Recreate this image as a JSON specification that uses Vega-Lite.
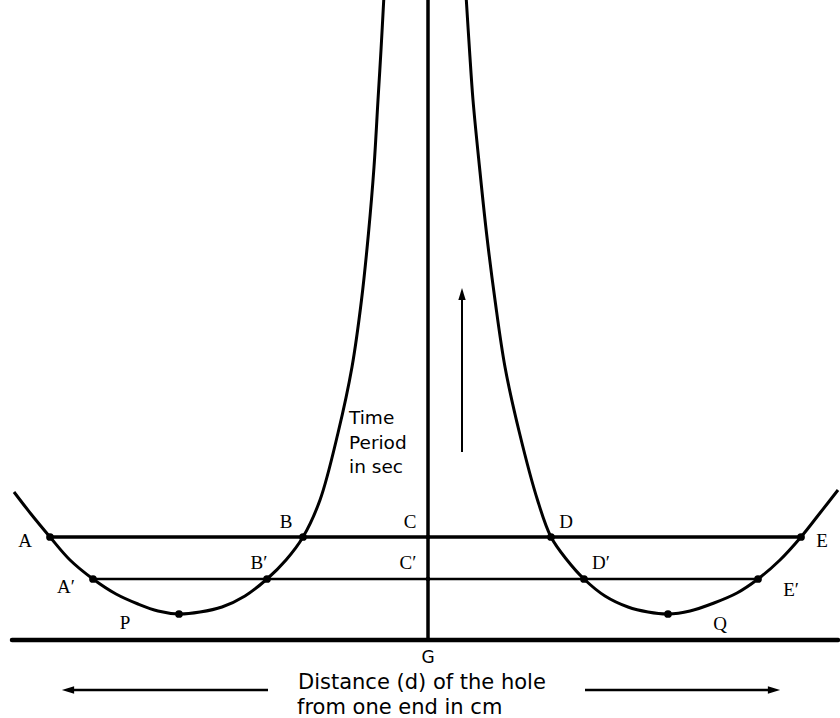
{
  "$schema": "https://vega.github.io/schema/vega-lite/v6.json",
  "width": 840,
  "height": 718,
  "autosize": "none",
  "padding": 0,
  "background": "white",
  "config": {"view": {"stroke": null}},
  "datasets": {
    "curves": [
      {"curve": "left", "i": 0, "x": 384, "y": -5},
      {"curve": "left", "i": 1, "x": 381, "y": 50},
      {"curve": "left", "i": 2, "x": 378, "y": 100},
      {"curve": "left", "i": 3, "x": 374, "y": 167},
      {"curve": "left", "i": 4, "x": 368.5, "y": 233},
      {"curve": "left", "i": 5, "x": 361.5, "y": 300},
      {"curve": "left", "i": 6, "x": 352, "y": 367},
      {"curve": "left", "i": 7, "x": 338, "y": 433},
      {"curve": "left", "i": 8, "x": 320, "y": 500},
      {"curve": "left", "i": 9, "x": 303, "y": 537},
      {"curve": "left", "i": 10, "x": 286, "y": 560},
      {"curve": "left", "i": 11, "x": 267, "y": 579},
      {"curve": "left", "i": 12, "x": 245, "y": 596},
      {"curve": "left", "i": 13, "x": 222, "y": 607},
      {"curve": "left", "i": 14, "x": 200, "y": 612},
      {"curve": "left", "i": 15, "x": 179, "y": 614},
      {"curve": "left", "i": 16, "x": 158, "y": 611},
      {"curve": "left", "i": 17, "x": 138, "y": 604},
      {"curve": "left", "i": 18, "x": 116, "y": 594},
      {"curve": "left", "i": 19, "x": 93, "y": 579},
      {"curve": "left", "i": 20, "x": 70, "y": 560},
      {"curve": "left", "i": 21, "x": 50, "y": 537},
      {"curve": "left", "i": 22, "x": 31, "y": 514},
      {"curve": "left", "i": 23, "x": 14, "y": 492},
      {"curve": "right", "i": 0, "x": 466, "y": -5},
      {"curve": "right", "i": 1, "x": 469.5, "y": 50},
      {"curve": "right", "i": 2, "x": 473, "y": 100},
      {"curve": "right", "i": 3, "x": 479.5, "y": 167},
      {"curve": "right", "i": 4, "x": 486.5, "y": 233},
      {"curve": "right", "i": 5, "x": 495, "y": 300},
      {"curve": "right", "i": 6, "x": 505, "y": 367},
      {"curve": "right", "i": 7, "x": 519.5, "y": 433},
      {"curve": "right", "i": 8, "x": 537.5, "y": 500},
      {"curve": "right", "i": 9, "x": 551, "y": 537},
      {"curve": "right", "i": 10, "x": 567, "y": 560},
      {"curve": "right", "i": 11, "x": 584, "y": 579},
      {"curve": "right", "i": 12, "x": 605, "y": 596},
      {"curve": "right", "i": 13, "x": 628, "y": 607},
      {"curve": "right", "i": 14, "x": 648, "y": 612},
      {"curve": "right", "i": 15, "x": 668, "y": 614},
      {"curve": "right", "i": 16, "x": 690, "y": 611},
      {"curve": "right", "i": 17, "x": 714, "y": 603},
      {"curve": "right", "i": 18, "x": 737, "y": 593},
      {"curve": "right", "i": 19, "x": 758, "y": 579},
      {"curve": "right", "i": 20, "x": 780, "y": 560},
      {"curve": "right", "i": 21, "x": 801, "y": 537},
      {"curve": "right", "i": 22, "x": 820, "y": 513},
      {"curve": "right", "i": 23, "x": 838, "y": 490}
    ],
    "segments": [
      {"name": "AE", "kind": "thick", "x": 50, "x2": 801, "y": 537, "y2": 537},
      {"name": "A'E'", "kind": "medium", "x": 93, "x2": 758, "y": 579, "y2": 579},
      {"name": "base", "kind": "heavy", "x": 12, "x2": 838, "y": 640, "y2": 640},
      {"name": "axis", "kind": "thick", "x": 428, "x2": 428, "y": 0, "y2": 640},
      {"name": "up", "kind": "thin", "x": 462, "x2": 462, "y": 296, "y2": 452},
      {"name": "leftarrow", "kind": "medium", "x": 70, "x2": 268, "y": 690, "y2": 690},
      {"name": "rightarrow", "kind": "medium", "x": 585, "x2": 772, "y": 690, "y2": 690}
    ],
    "heads": [
      {"dir": "up", "x": 462, "y": 294},
      {"dir": "left", "x": 68, "y": 690},
      {"dir": "right", "x": 774, "y": 690}
    ],
    "dots": [
      {"label": "A", "kind": "big", "x": 50, "y": 537},
      {"label": "B", "kind": "big", "x": 303, "y": 537},
      {"label": "C", "kind": "small", "x": 428, "y": 537},
      {"label": "D", "kind": "big", "x": 551, "y": 537},
      {"label": "E", "kind": "big", "x": 801, "y": 537},
      {"label": "A'", "kind": "big", "x": 93, "y": 579},
      {"label": "B'", "kind": "big", "x": 267, "y": 579},
      {"label": "C'", "kind": "small", "x": 428, "y": 579},
      {"label": "D'", "kind": "big", "x": 584, "y": 579},
      {"label": "E'", "kind": "big", "x": 758, "y": 579},
      {"label": "P", "kind": "big", "x": 179, "y": 614},
      {"label": "Q", "kind": "big", "x": 668, "y": 614}
    ],
    "letters": [
      {"text": "A", "x": 25, "y": 541},
      {"text": "B", "x": 286, "y": 522},
      {"text": "C", "x": 410, "y": 522},
      {"text": "D", "x": 566, "y": 522},
      {"text": "E", "x": 822, "y": 541},
      {"text": "A′", "x": 66, "y": 587},
      {"text": "B′", "x": 259, "y": 563},
      {"text": "C′", "x": 408, "y": 563},
      {"text": "D′", "x": 601, "y": 563},
      {"text": "E′", "x": 791, "y": 590},
      {"text": "P", "x": 125, "y": 623},
      {"text": "Q", "x": 720, "y": 624}
    ],
    "words": [
      {"text": "Time", "x": 349, "y": 418},
      {"text": "Period", "x": 349, "y": 443},
      {"text": "in sec", "x": 349, "y": 467}
    ],
    "caption": [
      {"text": "Distance (d) of the hole", "x": 298, "y": 683},
      {"text": "from one end in cm", "x": 297, "y": 708}
    ],
    "center": [
      {"text": "G", "x": 428, "y": 658}
    ]
  },
  "layer": [
    {
      "data": {"name": "curves"},
      "mark": {"type": "line", "color": "black", "strokeWidth": 3, "interpolate": "catmull-rom", "clip": true},
      "encoding": {
        "x": {"field": "x", "type": "quantitative", "scale": {"domain": [0, 840], "nice": false, "zero": false}, "axis": null},
        "y": {"field": "y", "type": "quantitative", "scale": {"domain": [0, 718], "nice": false, "zero": false, "reverse": true}, "axis": null},
        "detail": {"field": "curve"},
        "order": {"field": "i"}
      }
    },
    {
      "data": {"name": "segments"},
      "transform": [{"filter": "datum.kind == 'heavy'"}],
      "mark": {"type": "rule", "color": "black", "strokeWidth": 4.5, "strokeCap": "round"},
      "encoding": {
        "x": {"field": "x", "type": "quantitative"},
        "x2": {"field": "x2"},
        "y": {"field": "y", "type": "quantitative"},
        "y2": {"field": "y2"}
      }
    },
    {
      "data": {"name": "segments"},
      "transform": [{"filter": "datum.kind == 'thick'"}],
      "mark": {"type": "rule", "color": "black", "strokeWidth": 3.5},
      "encoding": {
        "x": {"field": "x", "type": "quantitative"},
        "x2": {"field": "x2"},
        "y": {"field": "y", "type": "quantitative"},
        "y2": {"field": "y2"}
      }
    },
    {
      "data": {"name": "segments"},
      "transform": [{"filter": "datum.kind == 'medium'"}],
      "mark": {"type": "rule", "color": "black", "strokeWidth": 2.5},
      "encoding": {
        "x": {"field": "x", "type": "quantitative"},
        "x2": {"field": "x2"},
        "y": {"field": "y", "type": "quantitative"},
        "y2": {"field": "y2"}
      }
    },
    {
      "data": {"name": "segments"},
      "transform": [{"filter": "datum.kind == 'thin'"}],
      "mark": {"type": "rule", "color": "black", "strokeWidth": 2},
      "encoding": {
        "x": {"field": "x", "type": "quantitative"},
        "x2": {"field": "x2"},
        "y": {"field": "y", "type": "quantitative"},
        "y2": {"field": "y2"}
      }
    },
    {
      "data": {"name": "heads"},
      "transform": [{"filter": "datum.dir == 'up'"}],
      "mark": {"type": "point", "shape": "M -0.6 1 L 0 -1 L 0.6 1 Z", "filled": true, "color": "black", "opacity": 1, "size": 150},
      "encoding": {
        "x": {"field": "x", "type": "quantitative"},
        "y": {"field": "y", "type": "quantitative"}
      }
    },
    {
      "data": {"name": "heads"},
      "transform": [{"filter": "datum.dir == 'left'"}],
      "mark": {"type": "point", "shape": "M -1 0 L 1 -0.6 L 1 0.6 Z", "filled": true, "color": "black", "opacity": 1, "size": 150},
      "encoding": {
        "x": {"field": "x", "type": "quantitative"},
        "y": {"field": "y", "type": "quantitative"}
      }
    },
    {
      "data": {"name": "heads"},
      "transform": [{"filter": "datum.dir == 'right'"}],
      "mark": {"type": "point", "shape": "M 1 0 L -1 -0.6 L -1 0.6 Z", "filled": true, "color": "black", "opacity": 1, "size": 150},
      "encoding": {
        "x": {"field": "x", "type": "quantitative"},
        "y": {"field": "y", "type": "quantitative"}
      }
    },
    {
      "data": {"name": "dots"},
      "transform": [{"filter": "datum.kind == 'big'"}],
      "mark": {"type": "circle", "color": "black", "opacity": 1, "size": 60},
      "encoding": {
        "x": {"field": "x", "type": "quantitative"},
        "y": {"field": "y", "type": "quantitative"}
      }
    },
    {
      "data": {"name": "dots"},
      "transform": [{"filter": "datum.kind == 'small'"}],
      "mark": {"type": "circle", "color": "black", "opacity": 1, "size": 20},
      "encoding": {
        "x": {"field": "x", "type": "quantitative"},
        "y": {"field": "y", "type": "quantitative"}
      }
    },
    {
      "data": {"name": "letters"},
      "mark": {"type": "text", "font": "Liberation Serif", "fontSize": 19, "color": "black", "align": "center", "baseline": "middle"},
      "encoding": {
        "x": {"field": "x", "type": "quantitative"},
        "y": {"field": "y", "type": "quantitative"},
        "text": {"field": "text"}
      }
    },
    {
      "data": {"name": "words"},
      "mark": {"type": "text", "font": "DejaVu Sans", "fontSize": 18.5, "color": "black", "align": "left", "baseline": "middle"},
      "encoding": {
        "x": {"field": "x", "type": "quantitative"},
        "y": {"field": "y", "type": "quantitative"},
        "text": {"field": "text"}
      }
    },
    {
      "data": {"name": "caption"},
      "mark": {"type": "text", "font": "DejaVu Sans", "fontSize": 21, "color": "black", "align": "left", "baseline": "middle"},
      "encoding": {
        "x": {"field": "x", "type": "quantitative"},
        "y": {"field": "y", "type": "quantitative"},
        "text": {"field": "text"}
      }
    },
    {
      "data": {"name": "center"},
      "mark": {"type": "text", "font": "DejaVu Sans", "fontSize": 17, "color": "black", "align": "center", "baseline": "middle"},
      "encoding": {
        "x": {"field": "x", "type": "quantitative"},
        "y": {"field": "y", "type": "quantitative"},
        "text": {"field": "text"}
      }
    }
  ]
}
